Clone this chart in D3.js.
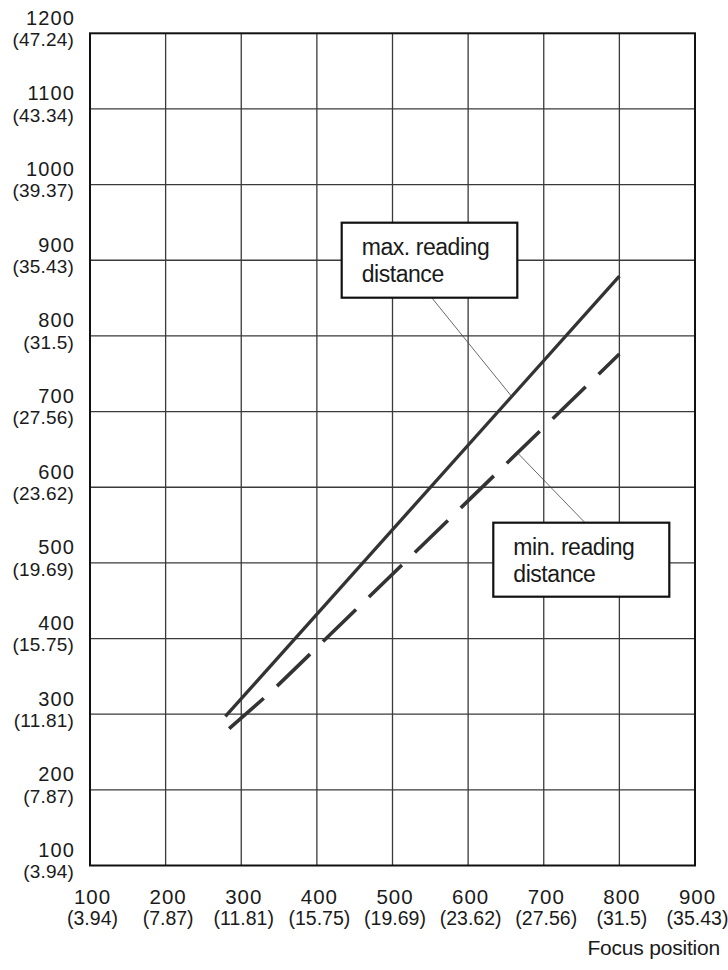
<!DOCTYPE html>
<html>
<head>
<meta charset="utf-8">
<script src="https://cdn.jsdelivr.net/npm/d3@7"></script>
<style>
  html, body { margin: 0; padding: 0; background: #fff; }
  svg { display: block; }
  text { font-family: "Liberation Sans", Arial, Helvetica, sans-serif; fill: #1a1a1a; }
</style>
</head>
<body>
<svg id="chart" width="728" height="970"></svg>
<script>
// ---- data ----
const xTicks = [100, 200, 300, 400, 500, 600, 700, 800, 900];
const xInch = ["(3.94)", "(7.87)", "(11.81)", "(15.75)", "(19.69)", "(23.62)", "(27.56)", "(31.5)", "(35.43)"];
const yTicks = [100, 200, 300, 400, 500, 600, 700, 800, 900, 1000, 1100, 1200];
const yInch = ["(3.94)", "(7.87)", "(11.81)", "(15.75)", "(19.69)", "(23.62)", "(27.56)", "(31.5)", "(35.43)", "(39.37)", "(43.34)", "(47.24)"];
const maxFocus = [279, 800];
const maxDist = [297, 879];
const minFocus = [284, 340, 800];
const minDist = [281, 330, 776];
const maxLabel = ["max. reading", "distance"];
const minLabel = ["min. reading", "distance"];
const xTitle = "Focus position";

// ---- layout ----
const svg = d3.select("#chart");
const L = 90, T = 33.3, R = 695, B = 865.5;
const x = d3.scaleLinear().domain([100, 900]).range([L, R]);
const y = d3.scaleLinear().domain([100, 1200]).range([B, T]);

// grid
const g = svg.append("g");
g.selectAll("line.v").data(xTicks.slice(1, -1)).join("line")
  .attr("x1", d => x(d)).attr("x2", d => x(d))
  .attr("y1", T).attr("y2", B)
  .attr("stroke", "#3a3a3a").attr("stroke-width", 1.3);
g.selectAll("line.h").data(yTicks.slice(1, -1)).join("line")
  .attr("y1", d => y(d)).attr("y2", d => y(d))
  .attr("x1", L).attr("x2", R)
  .attr("stroke", "#3a3a3a").attr("stroke-width", 1.3);

// frame
svg.append("rect").attr("x", L).attr("y", T).attr("width", R - L).attr("height", B - T)
  .attr("fill", "none").attr("stroke", "#111").attr("stroke-width", 2);

// axes via d3 axis (ticks hidden, labels custom)
const xAxis = svg.append("g").attr("transform", `translate(0,${B})`)
  .call(d3.axisBottom(x).tickValues(xTicks).tickSize(0).tickFormat(""));
xAxis.select(".domain").remove();
xAxis.selectAll(".tick").each(function(d, i) {
  const t = d3.select(this);
  t.append("text").attr("x", 2).attr("y", 38.5).attr("text-anchor", "middle")
    .style("font-size", "20.5px").style("letter-spacing", "1px").text(d);
  t.append("text").attr("x", 2).attr("y", 59.5).attr("text-anchor", "middle")
    .style("font-size", "19.5px").text(xInch[i]);
});

const yAxis = svg.append("g").attr("transform", `translate(${L},0)`)
  .call(d3.axisLeft(y).tickValues(yTicks).tickSize(0).tickFormat(""));
yAxis.select(".domain").remove();
yAxis.selectAll(".tick").each(function(d, i) {
  const t = d3.select(this);
  t.append("text").attr("x", -15).attr("y", -9).attr("text-anchor", "end")
    .style("font-size", "20px").style("letter-spacing", "1.1px").text(d);
  t.append("text").attr("x", -16).attr("y", 12.3).attr("text-anchor", "end")
    .style("font-size", "19px").style("letter-spacing", "0.2px").text(yInch[i]);
});

svg.append("text").attr("x", 720).attr("y", 955).attr("text-anchor", "end")
  .style("font-size", "21px").style("letter-spacing", "-0.2px").text(xTitle);

// lines
const line = d3.line().x(d => x(d[0])).y(d => y(d[1]));
const maxPts = maxFocus.map((f, i) => [f, maxDist[i]]);
const minPts = minFocus.map((f, i) => [f, minDist[i]]);
svg.append("path").attr("d", line(maxPts)).attr("fill", "none")
  .attr("stroke", "#333").attr("stroke-width", 3.3);
svg.append("path").attr("d", line(minPts)).attr("fill", "none")
  .attr("stroke", "#333").attr("stroke-width", 3.6)
  .attr("stroke-dasharray", "46,18");

// annotations
function interp(xs, ys, v) {
  for (let i = 0; i < xs.length - 1; i++) {
    if (v >= xs[i] && v <= xs[i + 1]) {
      const t = (v - xs[i]) / (xs[i + 1] - xs[i]);
      return ys[i] + t * (ys[i + 1] - ys[i]);
    }
  }
  return ys[ys.length - 1];
}
function callout(box, lines, from, anchorX, xs, ys) {
  const ax = x(anchorX), ay = y(interp(xs, ys, anchorX));
  svg.append("line").attr("x1", from[0]).attr("y1", from[1]).attr("x2", ax).attr("y2", ay)
    .attr("stroke", "#444").attr("stroke-width", 0.8);
  svg.append("rect").attr("x", box[0]).attr("y", box[1]).attr("width", box[2]).attr("height", box[3])
    .attr("fill", "#fff").attr("stroke", "#111").attr("stroke-width", 2.2);
  lines.forEach((s, i) => {
    svg.append("text").attr("x", box[0] + 20).attr("y", box[1] + 32 + i * 27)
      .style("font-size", "23px").style("letter-spacing", "-0.45px").text(s);
  });
}
callout([341.7, 222.7, 175.6, 75], maxLabel, [431.7, 297.7], 657.6, maxFocus, maxDist);
callout([493.3, 522.7, 176, 74], minLabel, [585, 522.7], 665.3, minFocus, minDist);
</script>
</body>
</html>
